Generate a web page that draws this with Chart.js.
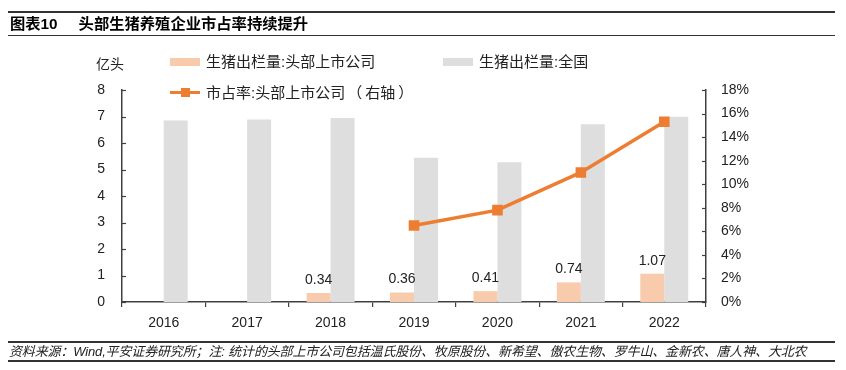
<!DOCTYPE html>
<html>
<head>
<meta charset="utf-8">
<script src="https://cdn.jsdelivr.net/npm/chart.js@4/dist/chart.umd.min.js"></script>
<style>
  html, body { margin: 0; padding: 0; background: #fff; }
  #wrap { position: relative; width: 846px; height: 370px; overflow: hidden; font-family: "Liberation Sans", "Noto Sans CJK SC", sans-serif; color: #000; }
  #c { position: absolute; left: 0; top: 0; }
  .hline { position: absolute; left: 8px; width: 827px; background: #333; }
  #title { position: absolute; left: 10px; top: 14px; font-size: 15.3px; font-weight: bold; font-family: "Liberation Sans", "Noto Sans CJK SC", sans-serif; white-space: nowrap; line-height: 20px; }
  #title .n { margin-right: 21px; }
  #footer { position: absolute; left: 9px; top: 343px; font-size: 13px; letter-spacing: -0.15px; font-style: italic; color: #222; white-space: nowrap; line-height: 18px; font-family: "Liberation Sans", "Noto Sans CJK SC", sans-serif; }
  .lg { position: absolute; font-size: 15px; white-space: nowrap; line-height: 18px; font-family: "Liberation Sans", "Noto Sans CJK SC", sans-serif; color: #222; }
  .sw { position: absolute; width: 30px; height: 8px; }
  #unit { position: absolute; left: 96px; top: 54px; font-size: 14px; line-height: 18px; font-family: "Noto Sans CJK SC", sans-serif; color: #222; }
</style>
</head>
<body>
<div id="wrap">
  <canvas id="c" width="846" height="370"></canvas>
  <div class="hline" style="top:11px;height:2px;"></div>
  <div id="title"><span class="n">图表10</span>头部生猪养殖企业市占率持续提升</div>
  <div class="hline" style="top:35px;height:1px;"></div>
  <div id="unit">亿头</div>
  <div class="sw" style="left:170px;top:58px;background:#F8CBAD;"></div>
  <div class="lg" style="left:206px;top:53px;">生猪出栏量:头部上市公司</div>
  <div class="sw" style="left:443px;top:58px;background:#DEDEDE;"></div>
  <div class="lg" style="left:479px;top:53px;">生猪出栏量:全国</div>
  <div class="sw" style="left:170px;top:91px;height:3px;background:#ED7D31;"></div>
  <div class="sw" style="left:181px;top:88px;width:9px;height:9px;background:#ED7D31;"></div>
  <div class="lg" style="left:206px;top:84px;">市占率:头部上市公司<span style="margin:0 3px 0 2px">（</span>右轴<span style="margin-left:3px">）</span></div>
  <div class="hline" style="top:341px;height:2px;"></div>
  <div id="footer">资料来源：Wind,平安证券研究所；注: 统计的头部上市公司包括温氏股份、牧原股份、新希望、傲农生物、罗牛山、金新农、唐人神、大北农</div>
  <div class="hline" style="top:360px;height:2px;"></div>
</div>
<script>
const years = ["2016", "2017", "2018", "2019", "2020", "2021", "2022"];
const topListed = [null, null, 0.34, 0.36, 0.41, 0.74, 1.07];
const national = [6.85, 6.89, 6.94, 5.44, 5.27, 6.71, 6.99];
const shareTop = [null, null, null, 6.5, 7.8, 11.0, 15.3];
const leftTicks = [0, 1, 2, 3, 4, 5, 6, 7, 8];
const rightTicks = [0, 2, 4, 6, 8, 10, 12, 14, 16, 18];

const fontNum = { family: "Liberation Sans, Arial, sans-serif", size: 14 };

const innerTicks = {
  id: 'innerTicks',
  afterDraw(chart) {
    const ctx = chart.ctx;
    const y = chart.scales.y, y1 = chart.scales.y1;
    ctx.save();
    ctx.strokeStyle = '#404040';
    ctx.lineWidth = 1.2;
    leftTicks.forEach(v => {
      const p = Math.round(y.getPixelForValue(v)) + 0.5;
      ctx.beginPath(); ctx.moveTo(y.right, p); ctx.lineTo(y.right + 4, p); ctx.stroke();
    });
    rightTicks.forEach(v => {
      const p = Math.round(y1.getPixelForValue(v)) + 0.5;
      ctx.beginPath(); ctx.moveTo(y1.left, p); ctx.lineTo(y1.left - 4, p); ctx.stroke();
    });
    ctx.restore();
  }
};

const barLabels = {
  id: 'barLabels',
  afterDatasetsDraw(chart) {
    const ctx = chart.ctx;
    const meta = chart.getDatasetMeta(0);
    ctx.save();
    ctx.font = "14px Liberation Sans, Arial, sans-serif";
    ctx.fillStyle = '#222';
    ctx.textAlign = 'center';
    ctx.textBaseline = 'bottom';
    meta.data.forEach((bar, i) => {
      const v = topListed[i];
      if (v == null) return;
      ctx.fillText(v.toFixed(2), bar.x, bar.y - 6);
    });
    ctx.restore();
  }
};

new Chart(document.getElementById('c'), {
  type: 'bar',
  data: {
    labels: years,
    datasets: [
      { label: '生猪出栏量:头部上市公司', data: topListed, backgroundColor: '#F8CBAD', order: 1, yAxisID: 'y' },
      { label: '生猪出栏量:全国', data: national, backgroundColor: '#DEDEDE', order: 1, yAxisID: 'y' },
      { type: 'line', label: '市占率:头部上市公司（右轴）', data: shareTop, yAxisID: 'y1', order: 0,
        borderColor: '#ED7D31', backgroundColor: '#ED7D31', borderWidth: 3.5,
        pointStyle: 'rect', pointRadius: 5, pointHoverRadius: 5, tension: 0 }
    ]
  },
  options: {
    responsive: false,
    animation: false,
    events: [],
    layout: { padding: { left: 60, right: 0, top: 90, bottom: 38 } },
    datasets: { bar: { categoryPercentage: 0.575, barPercentage: 1 } },
    plugins: { legend: { display: false }, tooltip: { enabled: false } },
    scales: {
      x: {
        offset: true,
        grid: { display: true, drawOnChartArea: false, offset: true, tickLength: 5, color: '#404040', lineWidth: 1.2 },
        border: { display: true, color: '#404040', width: 1.5 },
        ticks: { font: fontNum, color: '#222', padding: 8 },
        afterFit(s) { s.height = 30; }
      },
      y: {
        position: 'left', min: 0, max: 8,
        grid: { display: false, drawTicks: false },
        border: { display: true, color: '#404040', width: 1.5 },
        ticks: { stepSize: 1, font: fontNum, color: '#222', padding: 17 },
        afterFit(s) { s.width = 62; }
      },
      y1: {
        position: 'right', min: 0, max: 18,
        grid: { display: false, drawTicks: false },
        border: { display: true, color: '#404040', width: 1.5 },
        ticks: { stepSize: 2, font: fontNum, color: '#222', padding: 15, callback: v => v + '%' },
        afterFit(s) { s.width = 140; }
      }
    }
  },
  plugins: [innerTicks, barLabels]
});
</script>
</body>
</html>
